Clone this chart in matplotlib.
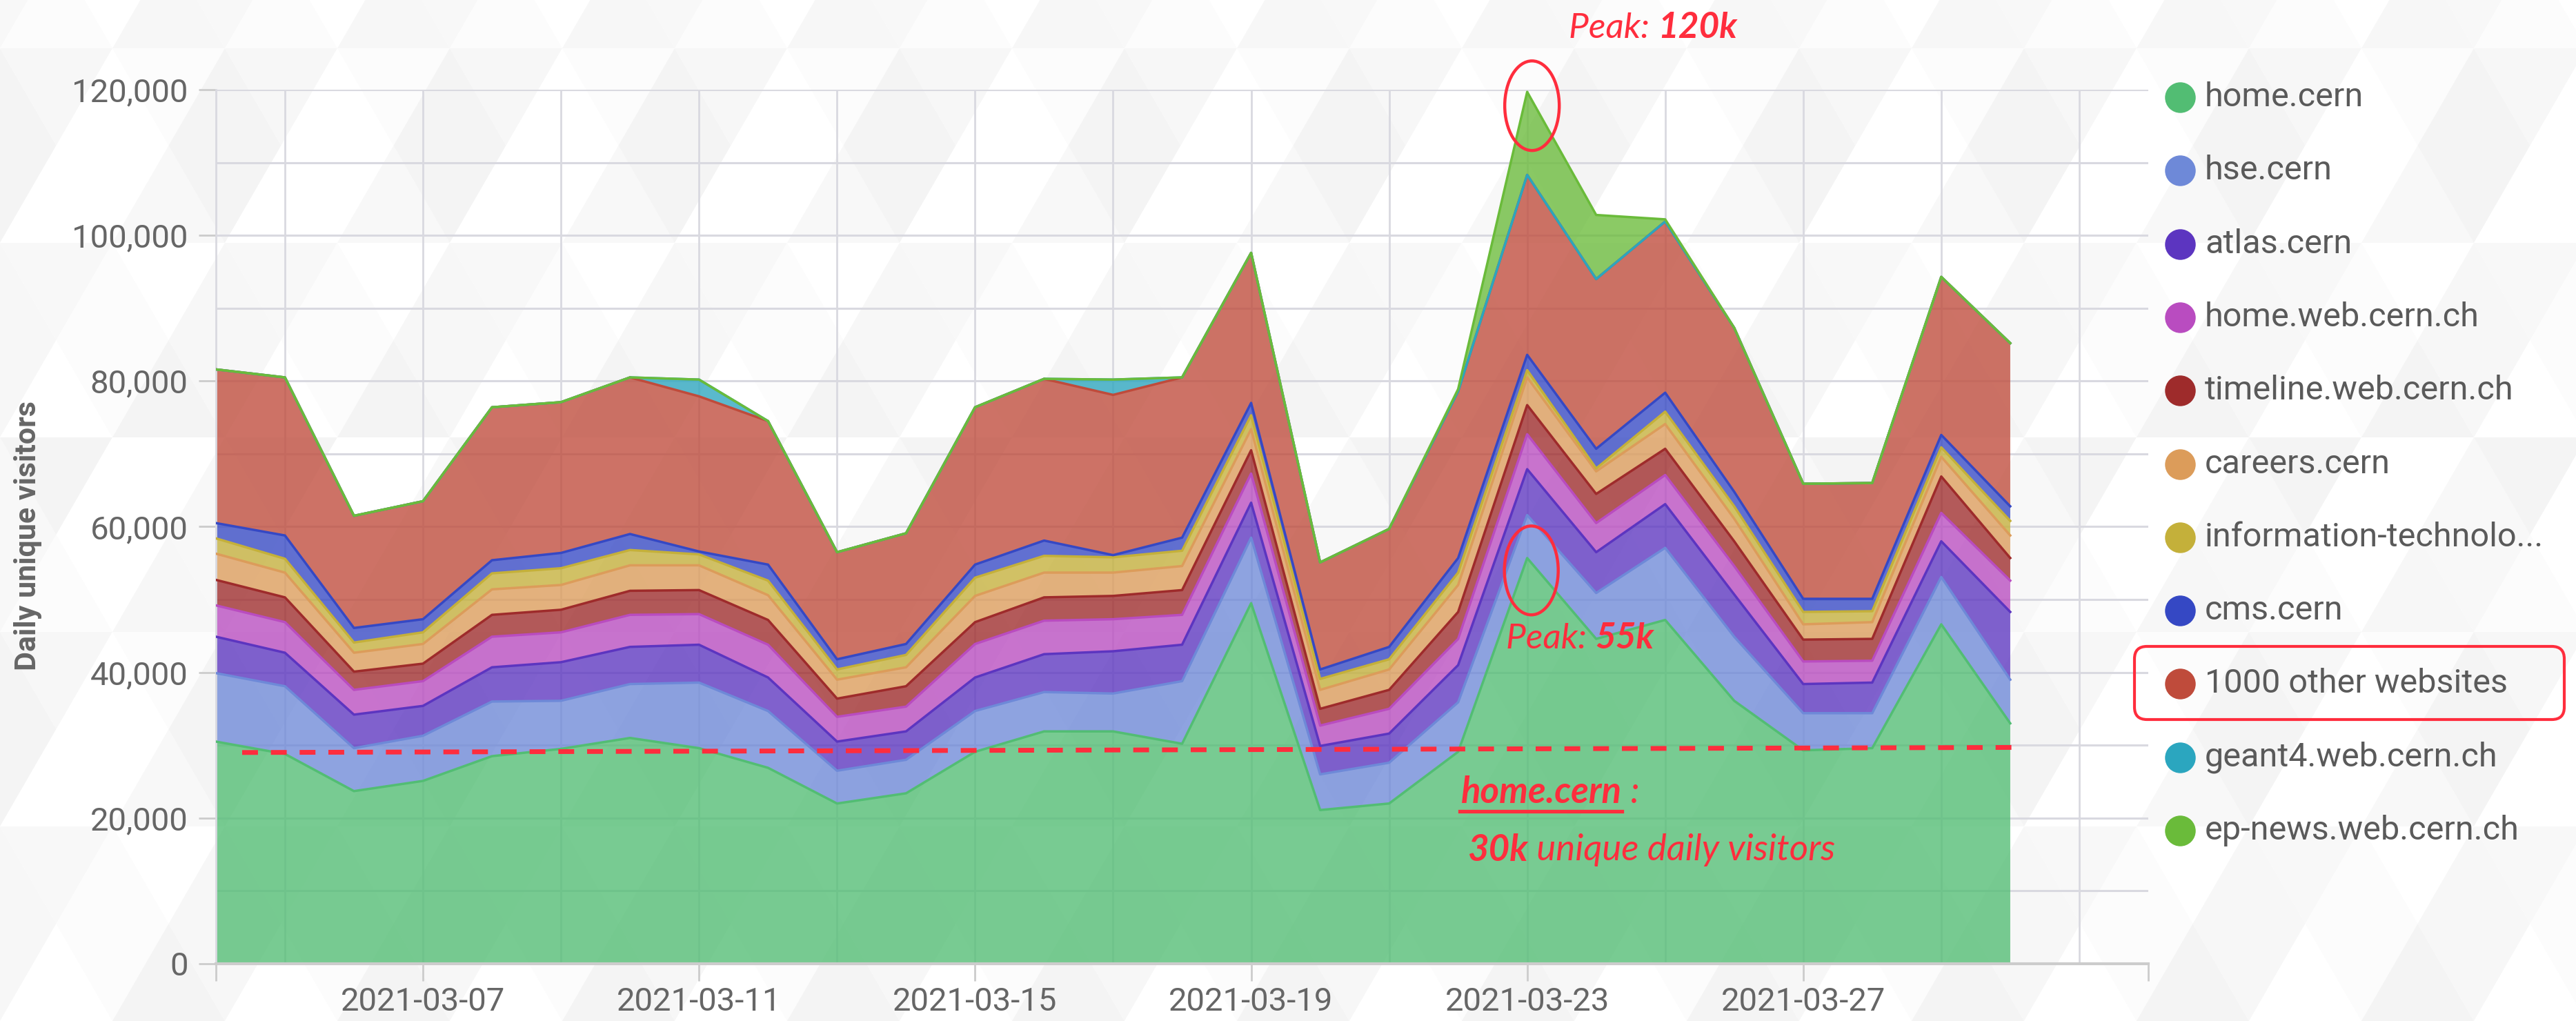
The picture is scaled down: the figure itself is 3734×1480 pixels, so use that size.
import matplotlib.pyplot as plt
import matplotlib.dates as mdates
from matplotlib.collections import PolyCollection
from matplotlib.lines import Line2D
from matplotlib.patches import Ellipse, FancyBboxPatch
from matplotlib.ticker import FuncFormatter, MultipleLocator
from matplotlib.transforms import Affine2D
import numpy as np
import pandas as pd


dates = pd.date_range("2021-03-04", "2021-03-30", freq="D")

# daily unique visitors per site (stacked bottom -> top)
home_cern = [30500, 28800, 23700, 25100, 28500, 29500, 31000, 29600, 26900, 22000,
             23400, 29100, 31900, 31900, 30200, 49500, 21100, 22000, 29100, 55700,
             44600, 47200, 36100, 29300, 29600, 46600, 33000]
hse_cern = [9400, 9300, 5900, 6200, 7500, 6600, 7400, 9000, 7800, 4500,
            4600, 5600, 5400, 5200, 8600, 9000, 4900, 5600, 6800, 5900,
            6300, 9900, 8800, 5100, 4800, 6500, 6000]
atlas_cern = [5000, 4600, 4600, 4100, 4700, 5300, 5100, 5200, 4600, 4000,
              3900, 4600, 5200, 5800, 5000, 4800, 3900, 4000, 5100, 6300,
              5600, 6000, 5800, 4000, 4200, 4900, 9300]
home_web = [4300, 4200, 3400, 3400, 4200, 4100, 4400, 4200, 4500, 3400,
            3400, 4600, 4600, 4400, 4100, 4000, 2800, 3400, 3600, 4800,
            4000, 4000, 3900, 3100, 3000, 3900, 4300]
timeline_web = [3500, 3400, 2500, 2400, 3000, 3100, 3300, 3300, 3400, 2500,
                2800, 3000, 3200, 3200, 3400, 3200, 2300, 2600, 3700, 4000,
                4000, 3600, 3400, 3000, 3000, 5000, 3100]
careers_cern = [3600, 3400, 2600, 2700, 3500, 3400, 3500, 3400, 3400, 2600,
                2600, 3600, 3400, 3200, 3300, 2900, 2600, 2800, 3700, 3800,
                3100, 3400, 3100, 2100, 2300, 2700, 3100]
info_tech = [2100, 1900, 1400, 1600, 2200, 2300, 2100, 1500, 2000, 1400,
             1700, 2500, 2300, 2100, 2100, 1900, 1500, 1400, 1700, 1000,
             400, 1700, 1700, 1700, 1500, 1300, 2000]
cms_cern = [2100, 3200, 2000, 1800, 1800, 2100, 2200, 400, 2200, 1400,
            1500, 1800, 2100, 300, 1800, 1700, 1300, 1700, 2000, 2100,
            2700, 2600, 2000, 1800, 1700, 1700, 2000]
other_sites = [21100, 21700, 15400, 16200, 21000, 20700, 21500, 21300, 19700, 14700,
               15200, 21600, 22200, 22000, 22000, 20600, 14700, 16200, 22900, 24700,
               23300, 23500, 22500, 15800, 15900, 21700, 22400]
geant4_web = [0, 0, 0, 0, 0, 0, 0, 2300, 0, 0,
              0, 0, 0, 2100, 0, 0, 0, 0, 0, 0,
              0, 0, 0, 0, 0, 0, 0]
ep_news_web = [0, 0, 0, 0, 0, 0, 0, 0, 0, 0,
               0, 0, 0, 0, 0, 0, 0, 0, 300, 11400,
               8800, 300, 0, 0, 0, 0, 0]

labels = ["home.cern", "hse.cern", "atlas.cern", "home.web.cern.ch",
          "timeline.web.cern.ch", "careers.cern", "information-technolo...",
          "cms.cern", "1000 other websites", "geant4.web.cern.ch",
          "ep-news.web.cern.ch"]
series = [home_cern, hse_cern, atlas_cern, home_web, timeline_web, careers_cern,
          info_tech, cms_cern, other_sites, geant4_web, ep_news_web]
colors = ["#52bd73", "#6e89d8", "#5c35c0", "#b94cc0", "#9e2b2b", "#dc9c5a",
          "#c4b03a", "#3548c4", "#bf4b3b", "#2ba6bf", "#6abb3a"]

baseline_30k = [29000, 29700]
peak_total = 117800
peak_home = 54000

red = "#ff2d3d"
W, H = 3734, 1480
plt.rcParams["font.family"] = ["Roboto", "DejaVu Sans"]

fig = plt.figure(figsize=(W / 100, H / 100), dpi=100)
px = Affine2D().scale(1 / W, 1 / H) + fig.transFigure

# faint triangle background
bg = fig.add_axes([0, 0, 1, 1], zorder=-10)
bg.set_xlim(0, W)
bg.set_ylim(0, H)
bg.axis("off")
side, rowh = 163, 141
shades = ["#ffffff", "#f8f8f8", "#fcfcfc", "#f4f4f4", "#ffffff", "#f7f7f7"]
polys, cols = [], []
for r in range(int(H / rowh) + 2):
    y0, y1 = r * rowh, (r + 1) * rowh
    off = (r % 2) * side / 2
    for k in range(-1, int(W / side) + 2):
        x0 = k * side - off
        polys.append([(x0, y0), (x0 + side, y0), (x0 + side / 2, y1)])
        cols.append(shades[(3 * k + 5 * r) % 6])
        polys.append([(x0 + side / 2, y1), (x0 + 1.5 * side, y1), (x0 + side, y0)])
        cols.append(shades[(3 * k + 5 * r + 2) % 6])
bg.add_collection(PolyCollection(polys, facecolors=cols, edgecolors="none"))

ax = fig.add_axes([313 / W, 83 / H, 2801 / W, 1267 / H])
ax.set_facecolor("none")
ax.set_axisbelow(True)

x = mdates.date2num(dates)
base = np.zeros(len(dates))
for vals, c in zip(series, colors):
    top = base + np.array(vals)
    ax.fill_between(x, base, top, facecolor=c, alpha=0.78, lw=0, zorder=2)
    base = top
base = np.zeros(len(dates))
for vals, c in zip(series, colors):
    top = base + np.array(vals)
    ax.plot(x, top, color=c, lw=2.5, zorder=3)
    base = top

ax.set_xlim(mdates.date2num(pd.Timestamp("2021-03-04")),
            mdates.date2num(pd.Timestamp("2021-04-01")))
ax.set_ylim(0, 120000)

major = pd.to_datetime(["2021-03-04", "2021-03-07", "2021-03-11", "2021-03-15",
                        "2021-03-19", "2021-03-23", "2021-03-27", "2021-04-01"])
ax.set_xticks(mdates.date2num(major))
ax.set_xticklabels([""] + [d.strftime("%Y-%m-%d") for d in major[1:-1]] + [""])
ax.set_xticks(mdates.date2num(pd.date_range("2021-03-05", "2021-03-31", freq="2D")),
              minor=True)
ax.xaxis.remove_overlapping_locs = False
ax.yaxis.set_major_locator(MultipleLocator(20000))
ax.yaxis.set_minor_locator(MultipleLocator(10000))
ax.yaxis.set_major_formatter(FuncFormatter(lambda v, p: f"{int(v):,}"))

ax.grid(which="minor", axis="x", color="#d9d9e0", lw=2)
ax.grid(which="both", axis="y", color="#d9d9e0", lw=2.2)
ax.tick_params(axis="both", which="major", length=18, width=2, color="#cccccc",
               labelsize=34, labelcolor="#666666")
ax.tick_params(axis="x", which="major", pad=6)
ax.tick_params(axis="y", which="major", pad=11)
ax.tick_params(which="minor", length=0)
for s in ["top", "right"]:
    ax.spines[s].set_visible(False)
ax.spines["bottom"].set_color("#cccccc")
ax.spines["bottom"].set_linewidth(3)
ax.spines["left"].set_color("#d9d9e0")
ax.spines["left"].set_linewidth(2)

fig.text(41, H - 776, "Daily unique visitors", transform=px, rotation=90,
         ha="center", va="center", fontsize=31, fontweight="bold", color="#666666")

# legend
for i, (lab, c) in enumerate(zip(labels, colors)):
    y = H - (141 + 106.3 * i)
    fig.add_artist(Line2D([3160], [y], marker="o", markersize=31, color=c,
                          linestyle="none", transform=px))
    fig.text(3196, y, lab, transform=px, ha="left", va="center",
             fontsize=35, color="#5a5a5a")
fig.add_artist(FancyBboxPatch((3094, H - 1043), 623, 106,
                              boxstyle="round,pad=0,rounding_size=18",
                              transform=px, fill=False, ec=red, lw=3))

# annotations
ax.plot([x[0] + 0.38, x[-1] + 0.06], baseline_30k, color=red, lw=5,
        linestyle=(0, (3.3, 2.7)), zorder=6, clip_on=False)
ax.add_patch(Ellipse((x[19] + 0.07, peak_total), 0.79, 12300, fill=False,
                     ec=red, lw=3.2, zorder=7, clip_on=False))
ax.add_patch(Ellipse((x[19] + 0.06, peak_home), 0.78, 12200, fill=False,
                     ec=red, lw=3.2, zorder=7, clip_on=False))

hand = dict(family="Lato", style="italic", color=red)


def runs(x0, y0, parts, size):
    prev = None
    out = []
    for s, w in parts:
        if prev is None:
            t = fig.text(x0, H - y0, s, transform=px, ha="left", va="center",
                         fontsize=size, fontweight=w, **hand)
        else:
            t = ax.annotate(s, xy=(1, 0), xycoords=prev, ha="left", va="bottom",
                            fontsize=size, fontweight=w, annotation_clip=False,
                            **hand)
        out.append(t)
        prev = t
    return out


runs(2274, 41, [("Peak: ", "normal"), ("120k", "bold")], 37)
runs(2183, 926, [("Peak: ", "normal"), ("55k", "bold")], 37)
hc = runs(2118, 1149, [("home.cern", "bold"), (" :", "normal")], 38)
runs(2127, 1232, [("30k", "bold"), (" unique daily visitors", "normal")], 38)

fig.canvas.draw()
bb = hc[0].get_window_extent()
fig.add_artist(Line2D([bb.x0 - 2, bb.x1], [H - 1176, H - 1176], color=red, lw=3.8,
                      transform=px))

fig.savefig("out.png", dpi=100)
